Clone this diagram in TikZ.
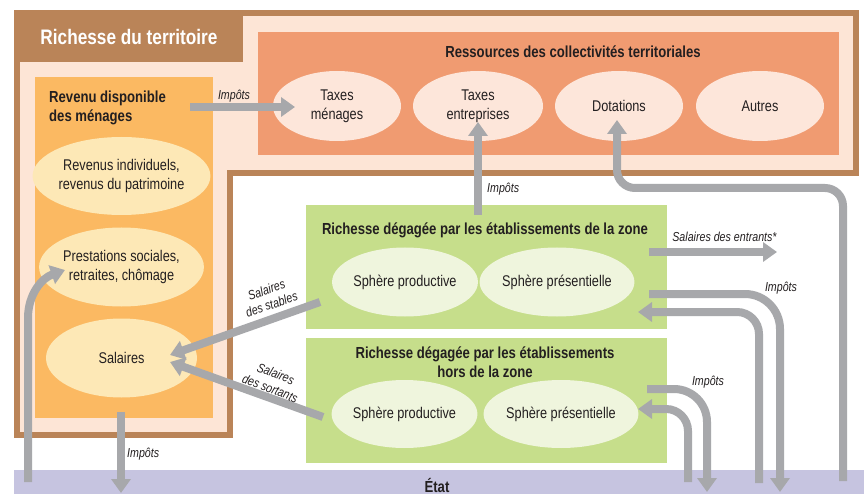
\documentclass[tikz,border=0pt]{standalone}
\usepackage{fontspec}
\setmainfont{Liberation Sans}[FakeStretch=0.82]
\usetikzlibrary{shapes.geometric,arrows.meta}
\definecolor{brownb}{HTML}{BA8458}
\definecolor{peach}{HTML}{FDE5D6}
\definecolor{salmon}{HTML}{F09B71}
\definecolor{peachell}{HTML}{FDE6DA}
\definecolor{orangeb}{HTML}{FBB962}
\definecolor{yellowell}{HTML}{FDE8B6}
\definecolor{greenb}{HTML}{C6DE8B}
\definecolor{greenell}{HTML}{EFF5DD}
\definecolor{etatc}{HTML}{C6C4E0}
\definecolor{arrowc}{HTML}{A7A8AB}
\definecolor{txt}{HTML}{231F20}
\begin{document}
\begin{tikzpicture}[x=1pt,y=-1pt,
  panel/.style={draw=none,inner sep=0pt,outer sep=0pt,anchor=north west},
  ell/.style={ellipse,inner sep=0pt,align=center,font=\fontsize{15.5}{19}\selectfont,text=txt},
  flow/.style={draw=arrowc,line width=8pt,-{Triangle[width=19pt,length=14pt]}},
  flowplain/.style={draw=arrowc,line width=8pt},
  lab/.style={font=\fontsize{13}{15.5}\selectfont\itshape,text=txt,inner sep=0pt,align=center},
  heading/.style={font=\fontsize{16}{19}\selectfont\bfseries,text=txt,align=center,inner sep=0pt}]

\useasboundingbox (0,0) rectangle (864,494);
\fill[white] (0,0) rectangle (864,494);

% territory frame
\filldraw[fill=peach,draw=brownb,line width=6pt] (17,13) -- (855.5,13) -- (855.5,173) -- (230,173) -- (230,435) -- (17,435) -- cycle;
\node[panel,fill=brownb,minimum width=229pt,minimum height=52pt] (tab) at (14,10) {};
\node[font=\fontsize{21}{24}\selectfont\bfseries,text=white,inner sep=0pt] (tabtxt) at (129,37) {Richesse du territoire};

% ressources
\node[panel,fill=salmon,minimum width=581pt,minimum height=123pt] (res) at (258,32) {};
\node[heading] (restitle) at (573,52) {Ressources des collectivités territoriales};
\node[ell,fill=peachell,minimum width=128pt,minimum height=70pt] (tm) at (337,106) {Taxes\\ménages};
\node[ell,fill=peachell,minimum width=130pt,minimum height=70pt] (te) at (478,106) {Taxes\\entreprises};
\node[ell,fill=peachell,minimum width=128pt,minimum height=70pt] (dot) at (619,106) {Dotations};
\node[ell,fill=peachell,minimum width=128pt,minimum height=70pt] (aut) at (760,106) {Autres};

% revenu disponible
\node[panel,fill=orangeb,minimum width=178pt,minimum height=341pt] (rev) at (35,77) {};
\node[heading,align=left,anchor=west] (revtitle) at (49,107.5) {Revenu disponible\\des ménages};
\node[ell,fill=yellowell,minimum width=151pt,minimum height=78pt] (ri) at (121.5,176) {Revenus individuels,\\revenus du patrimoine};
\node[ell,fill=yellowell,minimum width=151pt,minimum height=79pt] (ps) at (121.5,267) {Prestations sociales,\\retraites, chômage};
\node[ell,fill=yellowell,minimum width=151pt,minimum height=79pt] (sal) at (121.5,358) {Salaires};

% zone boxes
\node[panel,fill=greenb,minimum width=361pt,minimum height=124pt] (z1) at (306,205) {};
\node[heading] (z1title) at (485,230) {Richesse dégagée par les établissements de la zone};
\node[ell,fill=greenell,minimum width=135pt,minimum height=69pt] (z1p) at (405,282) {Sphère productive};
\node[ell,fill=greenell,minimum width=128pt,minimum height=69pt] (z1s) at (557,282) {Sphère présentielle};

\node[panel,fill=greenb,minimum width=361pt,minimum height=125pt] (z2) at (306,338) {};
\node[heading] (z2title) at (485,362.5) {Richesse dégagée par les établissements\\hors de la zone};
\node[ell,fill=greenell,minimum width=127pt,minimum height=68pt] (z2p) at (404.5,414) {Sphère productive};
\node[ell,fill=greenell,minimum width=128pt,minimum height=68pt] (z2s) at (561,414) {Sphère présentielle};

% Etat
\node[panel,fill=etatc,minimum width=850pt,minimum height=24pt] (etat) at (14,470) {};
\node[heading] (etattxt) at (437,485.5) {État};

% connector end points
\coordinate (a1s) at (190,107);
\coordinate (a1e) at (295,107);
\coordinate (a2s) at (478,215);
\coordinate (a2e) at (478,122);
\coordinate (d0) at (843,481);
\coordinate (d1) at (843,188);
\coordinate (d2) at (617,188);
\coordinate (d3) at (617,120);
\coordinate (ens) at (649,252);
\coordinate (ene) at (777,252);
\coordinate (i1a) at (649,294);
\coordinate (i1b) at (780,294);
\coordinate (i1c) at (780,492);
\coordinate (r1a) at (759,483);
\coordinate (r1b) at (759,312);
\coordinate (r1c) at (638,312);
\coordinate (i2a) at (647,389);
\coordinate (i2b) at (707,389);
\coordinate (i2c) at (707,492);
\coordinate (r2a) at (688,482);
\coordinate (r2b) at (688,409);
\coordinate (r2c) at (638,409);
\coordinate (sts) at (320,302);
\coordinate (ste) at (170,355);
\coordinate (sos) at (323,417);
\coordinate (soe) at (170,362);
\coordinate (rvs) at (121,412);
\coordinate (rve) at (121,493);
\coordinate (lfs) at (28,482);
\coordinate (lfm) at (28,318);
\coordinate (lfe) at (65,270);

% connectors
\draw[flow] (a1s) -- (a1e);
\node[lab] (l1) at (234,96) {Impôts};
\draw[flow] (a2s) -- (a2e);
\node[lab,anchor=west] (l2) at (487,189) {Impôts};
\draw[flow,rounded corners=18pt] (d0) -- (d1) -- (d2) -- (d3);
\draw[flow] (ens) -- (ene);
\node[lab] (l3) at (724.5,237) {Salaires des entrants*};
\draw[flow,rounded corners=35pt] (i1a) -- (i1b) -- (i1c);
\node[lab] (l4) at (781,288) {Impôts};
\draw[flow,rounded corners=22pt] (r1a) -- (r1b) -- (r1c);
\draw[flow,rounded corners=33pt] (i2a) -- (i2b) -- (i2c);
\node[lab] (l5) at (708,382) {Impôts};
\draw[flow,rounded corners=22pt] (r2a) -- (r2b) -- (r2c);
\draw[flow] (sts) -- (ste);
\node[lab,rotate=19.5] (l6) at (269,297) {Salaires\\des stables};
\draw[flow] (sos) -- (soe);
\node[lab,rotate=-21] (l7) at (273,381) {Salaires\\des sortants};
\draw[flow] (rvs) -- (rve);
\node[lab,anchor=west] (l8) at (127,454) {Impôts};
\draw[flow] (lfs) -- (lfm) .. controls (28,294) and (42,278) .. (lfe);
\end{tikzpicture}
\end{document}
